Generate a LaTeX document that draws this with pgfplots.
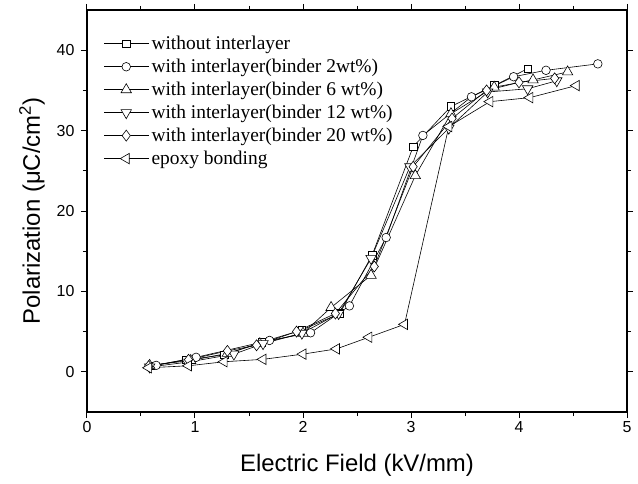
\documentclass[border=0pt]{standalone}
\usepackage{fontspec}
\setmainfont{Liberation Serif}
\newfontfamily\arialf{Liberation Sans}
\usepackage{pgfplots}
\pgfplotsset{compat=1.18}
\begin{document}
\begin{tikzpicture}
\useasboundingbox (-87bp,-72bp) rectangle (551bp,412bp);
\begin{axis}[
 scale only axis, width=540bp, height=402bp,
 xmin=0,xmax=5,ymin=-5,ymax=45,
 xtick={0,1,2,3,4,5}, minor xtick={0.5,1.5,2.5,3.5,4.5},
 ytick={0,10,20,30,40}, minor ytick={5,15,25,35},
 tick align=outside, major tick length=6bp, minor tick length=4bp,
 axis line style={line width=1.2bp},
 every tick/.style={line width=1bp, black},
 /pgf/number format/assume math mode=true,
 ticklabel style={font=\arialf\fontsize{16}{16}\selectfont},
 yticklabel style={xshift=-3bp},
 xlabel={Electric Field (kV/mm)},
 ylabel={Polarization (μC/cm\textsuperscript{2})},
 label style={font=\arialf\fontsize{24}{24}\selectfont},
 xlabel style={at={(axis description cs:0.5,-0.132)},anchor=center},
 ylabel style={at={(axis description cs:-0.102,0.5)},anchor=center},
 legend style={at={(axis description cs:0.031,0.94)},anchor=north west,draw=none,fill=none,
   font=\fontsize{19.5}{19.5}\selectfont, row sep=4bp, inner sep=0pt},
 legend cell align=left,
 legend image code/.code={\draw[mark repeat=2,mark phase=2] plot coordinates {(0bp,0bp) (22bp,0bp) (45bp,0bp)};},
 every axis plot/.append style={black, line width=0.6bp},
]
\addplot[mark=square*, mark size=3.8bp, mark options={solid,fill=white}] coordinates {
(0.59,0.75) (0.92,1.5) (1.27,2.1) (1.62,3.7) (1.99,5.2) (2.34,7.25) (2.64,14.5) (3.02,28.0) (3.37,33.0) (3.77,35.6) (4.08,37.7)};
\addlegendentry{without interlayer}
\addplot[mark=*, mark size=4.3bp, mark options={solid,fill=white}] coordinates {
(0.64,0.8) (1.01,1.8) (1.69,3.9) (2.07,4.85) (2.43,8.2) (2.77,16.7) (3.11,29.4) (3.56,34.2) (3.95,36.7) (4.25,37.5) (4.73,38.3)};
\addlegendentry{with interlayer(binder 2wt\%)}
\addplot[mark=triangle*, mark size=6bp, mark options={solid,fill=white}] coordinates {
(0.58,0.8) (0.96,1.4) (1.30,2.3) (1.60,3.5) (2.00,4.8) (2.26,8.0) (2.63,12.0) (3.04,24.4) (3.37,32.1) (3.77,35.4) (4.13,36.3) (4.45,37.3)};
\addlegendentry{with interlayer(binder 6 wt\%)}
\addplot[mark=triangle*, mark size=6bp, mark options={solid,fill=white,rotate=180}] coordinates {
(0.58,0.6) (0.93,1.2) (1.36,2.2) (1.63,3.5) (1.99,4.8) (2.33,7.25) (2.63,14.1) (2.99,25.5) (3.35,30.3) (3.71,34.8) (4.08,35.2) (4.35,36.2)};
\addlegendentry{with interlayer(binder 12 wt\%)}
\addplot[mark=diamond*, mark size=5.5bp, mark options={solid,fill=white}] coordinates {
(0.57,0.7) (0.94,1.5) (1.30,2.6) (1.57,3.3) (1.94,5.0) (2.30,7.25) (2.66,13.1) (3.02,25.5) (3.38,31.5) (3.70,35.0) (4.00,36.0) (4.33,36.5)};
\addlegendentry{with interlayer(binder 20 wt\%)}
\addplot[mark=triangle*, mark size=6bp, mark options={solid,fill=white,rotate=90}] coordinates {
(0.57,0.5) (0.94,0.75) (1.27,1.25) (1.63,1.55) (2.00,2.2) (2.31,2.85) (2.61,4.3) (2.94,5.9) (3.35,30.5) (3.73,33.6) (4.10,34.1) (4.53,35.6)};
\addlegendentry{epoxy bonding}
\end{axis}
\end{tikzpicture}
\end{document}
